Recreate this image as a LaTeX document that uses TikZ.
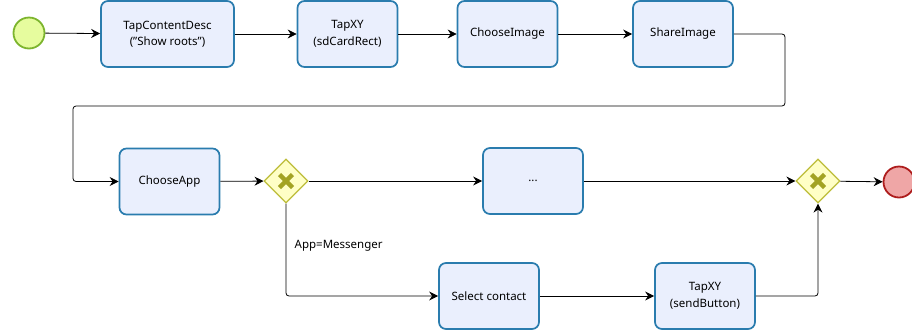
\documentclass[tikz,border=0pt]{standalone}
\usepackage{fontspec}
\setmainfont{Noto Sans}
\usetikzlibrary{arrows.meta,shapes.geometric}

\definecolor{taskfill}{HTML}{EAEFFD}
\definecolor{taskline}{HTML}{2A7CAE}
\definecolor{startfill}{HTML}{E6FC9E}
\definecolor{startline}{HTML}{7DB52E}
\definecolor{endfill}{HTML}{EFA6A6}
\definecolor{endline}{HTML}{AE1D1D}
\definecolor{gatefill}{HTML}{FFFFC6}
\definecolor{gateline}{HTML}{BDBD3A}
\definecolor{gatemark}{HTML}{A3A323}

\tikzset{
  task/.style={draw=taskline, fill=taskfill, line width=1.7pt, rounded corners=7pt,
    minimum width=100pt, minimum height=66pt, align=center,
    font=\fontsize{11.5}{16.5}\selectfont},
  gate/.style={diamond, draw=gateline, fill=gatefill, line width=1.2pt,
    minimum size=44pt, inner sep=0pt,
    path picture={
      \draw[gatemark, line width=4.5pt]
        ([shift={(-6.5pt,-6.5pt)}]path picture bounding box.center) -- ++(13pt,13pt)
        ([shift={(-6.5pt,6.5pt)}]path picture bounding box.center) -- ++(13pt,-13pt);
    }},
  event/.style={circle, line width=1.8pt, minimum size=31pt, inner sep=0pt},
  flow/.style={-{Stealth[length=9pt,width=9pt,inset=3pt]}, line width=0.8pt, rounded corners=3pt},
}

\begin{document}
\begin{tikzpicture}[x=1pt,y=-1pt]
  \useasboundingbox (0,0) rectangle (912,333);

  % first row
  \node[event, draw=startline, fill=startfill] (start) at (29,33) {};
  \node[task, minimum width=133pt] (desc)  at (167.5,34) {TapContentDesc\\("Show roots")};
  \node[task] (card)  at (347.5,34) {TapXY\\(sdCardRect)};
  \node[task] (image) at (507.5,34) {ChooseImage};
  \node[task] (share) at (683,34)   {ShareImage};

  % second row
  \node[task] (app)   at (169.5,181.5) {ChooseApp};
  \node[gate] (split) at (286,181) {};
  \node[task] (other) at (533,181) {...};
  \node[gate] (join)  at (818,181) {};
  \node[event, draw=endline, fill=endfill] (stop) at (899,182) {};

  % messenger branch
  \node[task] (contact) at (489,296) {Select contact};
  \node[task] (send)    at (705,296) {TapXY\\(sendButton)};

  \coordinate (wrapR) at (785,106);
  \coordinate (wrapL) at (73,106);

  \draw[flow] (start) -- (desc);
  \draw[flow] (desc)  -- (card);
  \draw[flow] (card)  -- (image);
  \draw[flow] (image) -- (share);
  \draw[flow] (share.east) -| (wrapR) -- (wrapL) |- (app.west);
  \draw[flow] (app)   -- (split);
  \draw[flow] (split) -- (other);
  \draw[flow] (other) -- (join);
  \draw[flow] (join)  -- (stop);
  \draw[flow] (split.south) |- node[pos=0.23, right=5pt, font=\fontsize{11.5}{14}\selectfont] {App=Messenger} (contact.west);
  \draw[flow] (contact) -- (send);
  \draw[flow] (send.east) -| (join.south);
\end{tikzpicture}
\end{document}
